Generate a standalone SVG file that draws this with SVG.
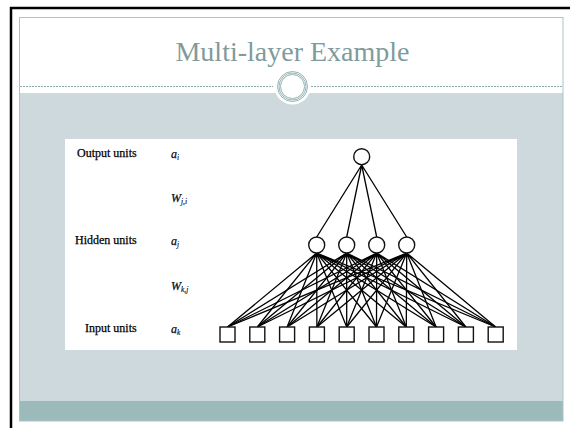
<svg xmlns="http://www.w3.org/2000/svg" width="570" height="428" viewBox="0 0 570 428">
<style>
.lbl{font-family:"Liberation Serif",serif;font-size:12px;fill:#000;stroke:#000;stroke-width:0.25}
.var{font-family:"Liberation Serif",serif;font-size:12px;font-style:italic;fill:#0a0a1e;stroke:#0a0a1e;stroke-width:0.25}
.sub{font-size:7.5px;stroke-width:0.15}
.unit{fill:#fff;stroke:#111;stroke-width:1.4}
.edge{stroke:#000;stroke-width:1.3;fill:none}
</style>
<rect x="0" y="0" width="570" height="428" fill="#fff"/>
<path d="M11 428 V8 H570" fill="none" stroke="#000" stroke-width="2.5"/>
<rect x="19" y="93" width="544" height="308" fill="#ced9de"/>
<rect x="19" y="401" width="544" height="20" fill="#9dbabb"/>
<rect x="19.5" y="17.5" width="543.5" height="403.5" fill="none" stroke="#abc4c5" stroke-width="1"/>
<line x1="20" y1="86.5" x2="273" y2="86.5" stroke="#8aa9aa" stroke-width="1" stroke-dasharray="2,1"/>
<line x1="311" y1="86.5" x2="562" y2="86.5" stroke="#8aa9aa" stroke-width="1" stroke-dasharray="2,1"/>
<circle cx="292.5" cy="86.5" r="18" fill="#fff"/>
<g fill="none" stroke="#8aa9aa" stroke-width="0.9">
<circle cx="292.5" cy="86.5" r="15"/>
<circle cx="292.5" cy="86.5" r="13.5"/>
<circle cx="292.5" cy="86.5" r="12"/>
</g>
<text x="292.5" y="61" text-anchor="middle" font-family="Liberation Serif, serif" font-size="28" fill="#7f9b9b">Multi-layer Example</text>
<rect x="65" y="139" width="452" height="211" fill="#fff"/>
<g id="labels">
<text class="lbl" x="77" y="157">Output units</text>
<text class="lbl" x="75" y="244">Hidden units</text>
<text class="lbl" x="85" y="332">Input units</text>
<text class="var" x="171" y="158">a<tspan class="sub" dy="2">i</tspan></text>
<text class="var" x="171" y="202">W<tspan class="sub" dy="2">j,i</tspan></text>
<text class="var" x="171" y="245">a<tspan class="sub" dy="2">j</tspan></text>
<text class="var" x="171" y="290">W<tspan class="sub" dy="2">k,j</tspan></text>
<text class="var" x="171" y="333">a<tspan class="sub" dy="2">k</tspan></text>
</g>
<g id="connectors" class="edge">
<path class="edge" d="M361.7 165 L316.7 237 M361.7 165 L346.7 237 M361.7 165 L376.7 237 M361.7 165 L406.7 237"/>
<path class="edge" d="M316.7 253 L227.5 327 M316.7 253 L257.3 327 M316.7 253 L287.1 327 M316.7 253 L316.9 327 M316.7 253 L346.7 327 M316.7 253 L376.5 327 M316.7 253 L406.3 327 M316.7 253 L436.1 327 M316.7 253 L465.9 327 M316.7 253 L495.7 327"/>
<path class="edge" d="M346.7 253 L227.5 327 M346.7 253 L257.3 327 M346.7 253 L287.1 327 M346.7 253 L316.9 327 M346.7 253 L346.7 327 M346.7 253 L376.5 327 M346.7 253 L406.3 327 M346.7 253 L436.1 327 M346.7 253 L465.9 327 M346.7 253 L495.7 327"/>
<path class="edge" d="M376.7 253 L227.5 327 M376.7 253 L257.3 327 M376.7 253 L287.1 327 M376.7 253 L316.9 327 M376.7 253 L346.7 327 M376.7 253 L376.5 327 M376.7 253 L406.3 327 M376.7 253 L436.1 327 M376.7 253 L465.9 327 M376.7 253 L495.7 327"/>
<path class="edge" d="M406.7 253 L227.5 327 M406.7 253 L257.3 327 M406.7 253 L287.1 327 M406.7 253 L316.9 327 M406.7 253 L346.7 327 M406.7 253 L376.5 327 M406.7 253 L406.3 327 M406.7 253 L436.1 327 M406.7 253 L465.9 327 M406.7 253 L495.7 327"/>
</g>
<g id="output"><circle class="unit" cx="361.7" cy="156.7" r="8"/></g>
<g id="hidden1"><circle class="unit" cx="316.7" cy="245" r="8"/></g>
<g id="hidden2"><circle class="unit" cx="346.7" cy="245" r="8"/></g>
<g id="hidden3"><circle class="unit" cx="376.7" cy="245" r="8"/></g>
<g id="hidden4"><circle class="unit" cx="406.7" cy="245" r="8"/></g>
<g id="input1"><rect class="unit" x="220" y="327" width="15" height="15"/></g>
<g id="input2"><rect class="unit" x="249.8" y="327" width="15" height="15"/></g>
<g id="input3"><rect class="unit" x="279.6" y="327" width="15" height="15"/></g>
<g id="input4"><rect class="unit" x="309.4" y="327" width="15" height="15"/></g>
<g id="input5"><rect class="unit" x="339.2" y="327" width="15" height="15"/></g>
<g id="input6"><rect class="unit" x="369" y="327" width="15" height="15"/></g>
<g id="input7"><rect class="unit" x="398.8" y="327" width="15" height="15"/></g>
<g id="input8"><rect class="unit" x="428.6" y="327" width="15" height="15"/></g>
<g id="input9"><rect class="unit" x="458.4" y="327" width="15" height="15"/></g>
<g id="input10"><rect class="unit" x="488.2" y="327" width="15" height="15"/></g>
</svg>
